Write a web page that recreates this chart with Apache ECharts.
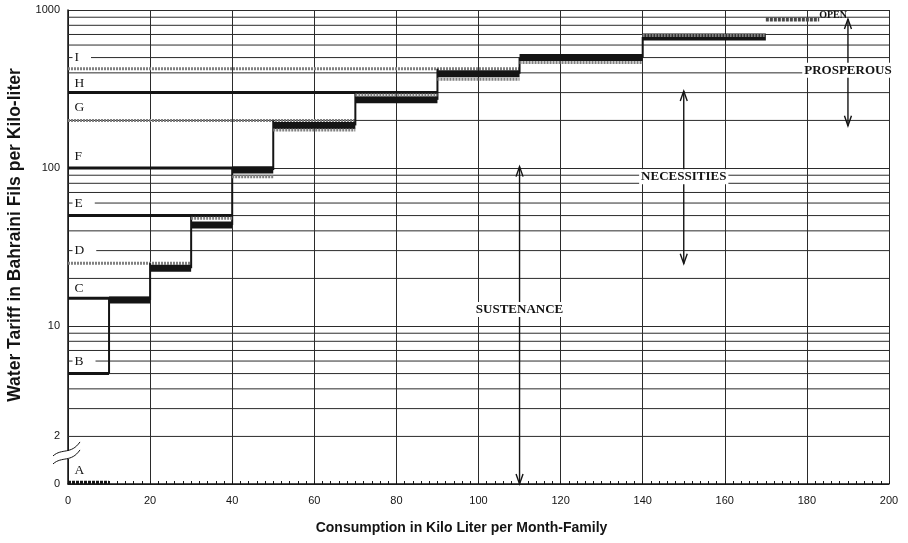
<!DOCTYPE html>
<html>
<head>
<meta charset="utf-8">
<title>Water Tariff Blocks</title>
<script src="https://cdn.jsdelivr.net/npm/echarts@6.0.0/dist/echarts.min.js"></script>
<style>
  html, body { margin: 0; padding: 0; background: #fff; }
  #chart { width: 908px; height: 543px; }
</style>
</head>
<body>
<div id="chart"></div>
<script>
// ---- data -----------------------------------------------------------
// Tariff blocks: each rate (fils per kilo-litre) runs from 0 up to the block's end
const blockNames = ['B', 'C', 'D', 'E', 'F', 'G', 'H', 'I'];
const blockEnds  = [10, 20, 30, 40, 50, 70, 90, 110];
const blockRates = [5, 15, 25, 50, 100, 200, 300, 425];
const shadedBlocks = ['D', 'G', 'I'];

// Free first block A (0 fils) over the first 10 kilo-litres
const freeBlock = { name: 'A', from: 0, to: 10, rate: 0 };

// Stepped charge bands between consecutive block limits
const stepStarts = [10, 20, 30, 40, 50, 70, 90, 110, 140];
const stepEnds   = [20, 30, 40, 50, 70, 90, 110, 140, 170];
const stepRates  = [14.6, 23.2, 43.5, 97, 186, 270, 395, 500, 675];
const stepShades = [null, null, 48, 88, 174, 290, 365, 465, 690];

// Open-ended top band
const openBand = { name: 'OPEN', from: 170, to: 183, rate: 870 };

// Consumption classes marked by double arrows
const rangeNames = ['SUSTENANCE', 'NECESSITIES', 'PROSPEROUS'];
const rangeAt    = [110, 150, 190];
const rangeLow   = [0, 24.8, 185];
const rangeHigh  = [102, 307, 877];
const rangeTagAt = [12.7, 88, 415];

// Block letters, placed on the tariff scale
const letterNames = ['A', 'B', 'C', 'D', 'E', 'F', 'G', 'H', 'I'];
const letterAt    = [1.21, 6, 17.3, 30, 60, 119, 243, 344, 500];

// Axis ticks
const xMax = 200, xStep = 20;
const yMin = 1, yMax = 1000;           // bottom of the log scale is shown as 0
const yMinorLines = [2, 3, 4, 5, 6, 7, 8, 9, 20, 30, 40, 50, 60, 70, 80, 90,
                     200, 300, 400, 500, 600, 700, 800, 900];
const yExtraLabel = 2;                 // labelled line just above the axis break
const yBreakAt = 1.55;                 // where the axis break sits

// ---- drawing ----------------------------------------------------------
const ink = '#141414';
const gridInk = '#2b2b2b';
const shadeInk = '#808080';
const serif = '"Liberation Serif", "Times New Roman", serif';
const sans = '"Liberation Sans", Arial, sans-serif';
const letterX = 1.1;

// a rate of 0 sits on the baseline of the broken axis
const onAxis = v => (v <= 0 ? yMin : v);

function hSegment(width, color, dash, dy) {
  return function (params, api) {
    const y = onAxis(api.value(2));
    const a = api.coord([api.value(0), y]);
    const b = api.coord([api.value(1), y]);
    const off = dy || 0;
    return {
      type: 'line', silent: true,
      shape: { x1: a[0], y1: a[1] + off, x2: b[0], y2: b[1] + off },
      style: { stroke: color, lineWidth: width, lineDash: dash || null, fill: 'none' }
    };
  };
}

function vSegment(width, color) {
  return function (params, api) {
    const x = api.value(0);
    const a = api.coord([x, onAxis(api.value(1))]);
    const b = api.coord([x, onAxis(api.value(2))]);
    return {
      type: 'line', silent: true,
      shape: { x1: a[0], y1: a[1], x2: b[0], y2: b[1] },
      style: { stroke: color, lineWidth: width, fill: 'none' }
    };
  };
}

const solidBlocks = [], dottedBlocks = [];
blockNames.forEach((n, i) => {
  (shadedBlocks.includes(n) ? dottedBlocks : solidBlocks).push([0, blockEnds[i], blockRates[i]]);
});

const darkSteps = stepStarts.map((s, i) => [s, stepEnds[i], stepRates[i]]);
const shadeSteps = stepStarts
  .map((s, i) => [s, stepEnds[i], stepShades[i]])
  .filter(d => d[2] != null);

// risers join each step to the next block / step above it
const risers = stepStarts.map((x, i) => {
  const low = i === 0 ? blockRates[0] : stepRates[i - 1];
  const nextBlock = blockRates[i + 1];
  const high = Math.max(stepRates[i], nextBlock != null ? nextBlock : 0);
  return [x, low, high];
});

const chart = echarts.init(document.getElementById('chart'));

const option = {
  animation: false,
  backgroundColor: '#fff',
  grid: { left: 68, right: 19, top: 10, bottom: 59, outerBoundsMode: 'none', containLabel: false },
  xAxis: {
    type: 'value', min: 0, max: xMax, interval: xStep,
    axisLine: { show: true, onZero: false, lineStyle: { color: ink, width: 1.5 } },
    axisTick: { show: true, inside: true, length: 3, lineStyle: { color: ink } },
    minorTick: { show: true, splitNumber: 10, length: 3, lineStyle: { color: ink } },
    splitLine: { show: true, lineStyle: { color: gridInk, width: 1 } },
    axisLabel: { color: ink, fontFamily: sans, fontSize: 11, margin: 11 },
    name: 'Consumption in Kilo Liter per Month-Family',
    nameLocation: 'middle', nameGap: 37,
    nameTextStyle: { fontFamily: sans, fontWeight: 'bold', fontSize: 14, color: ink,
                     padding: [0, 34, 0, 0] }
  },
  yAxis: {
    type: 'log', logBase: 10, min: yMin, max: yMax,
    axisLine: { show: true, onZero: false, lineStyle: { color: ink, width: 1.5 } },
    axisTick: { show: false },
    splitLine: { show: true, lineStyle: { color: gridInk, width: 1 } },
    axisLabel: {
      color: ink, fontFamily: sans, fontSize: 11, margin: 8,
      formatter: v => (v <= yMin ? '0' : String(Math.round(v)))
    },
    name: 'Water Tariff in Bahraini Fils per Kilo-liter',
    nameLocation: 'middle', nameGap: 44,
    nameTextStyle: { fontFamily: sans, fontWeight: 'bold', fontSize: 17.5, color: ink,
                     padding: [0, 0, 0, 24] }
  },
  series: [
    { // intermediate log grid lines
      type: 'custom', z: 1, silent: true,
      data: yMinorLines.map(v => [0, xMax, v]),
      encode: { x: [0, 1], y: 2 },
      renderItem: hSegment(1, gridInk)
    },
    {
      type: 'custom', z: 3, silent: true,
      data: solidBlocks, encode: { x: [0, 1], y: 2 },
      renderItem: hSegment(3, ink)
    },
    {
      type: 'custom', z: 3, silent: true,
      data: dottedBlocks, encode: { x: [0, 1], y: 2 },
      renderItem: hSegment(3, shadeInk, [2, 1])
    },
    {
      type: 'custom', z: 3, silent: true,
      data: risers, encode: { x: 0, y: [1, 2] },
      renderItem: vSegment(2, ink)
    },
    {
      type: 'custom', z: 4, silent: true,
      data: darkSteps, encode: { x: [0, 1], y: 2 },
      renderItem: hSegment(7, ink)
    },
    {
      type: 'custom', z: 4, silent: true,
      data: shadeSteps, encode: { x: [0, 1], y: 2 },
      renderItem: hSegment(3, shadeInk, [2, 1])
    },
    { // free block A on the zero baseline
      type: 'custom', z: 4, silent: true,
      data: [[freeBlock.from, freeBlock.to, freeBlock.rate]], encode: { x: [0, 1], y: 2 },
      renderItem: hSegment(3.5, ink, [3, 1], -1.5)
    },
    { // open-ended band
      type: 'custom', z: 4, silent: true,
      data: [[openBand.from, openBand.to, openBand.rate]], encode: { x: [0, 1], y: 2 },
      renderItem: function (params, api) {
        const a = api.coord([api.value(0), api.value(2)]);
        const b = api.coord([api.value(1), api.value(2)]);
        return {
          type: 'group', children: [
            { type: 'line', shape: { x1: a[0], y1: a[1], x2: b[0], y2: b[1] },
              style: { stroke: '#4a4a4a', lineWidth: 4, lineDash: [3, 1], fill: 'none' } },
            { type: 'text', x: b[0], y: b[1] + 1,
              style: { text: openBand.name, fontFamily: serif, fontWeight: 'bold', fontSize: 10,
                       fill: ink, align: 'left', verticalAlign: 'bottom' } }
          ]
        };
      }
    },
    { // block letters
      type: 'custom', z: 6, silent: true,
      data: letterNames.map((n, i) => [letterX, letterAt[i]]), encode: { x: 0, y: 1 },
      renderItem: function (params, api) {
        const p = api.coord([api.value(0), api.value(1)]);
        return {
          type: 'text', x: p[0], y: p[1],
          style: { text: letterNames[params.dataIndex], fontFamily: serif, fontSize: 13.5,
                   fill: ink, align: 'left', verticalAlign: 'middle',
                   backgroundColor: '#fff', padding: [0, 12, 0, 2] }
        };
      }
    },
    { // consumption classes
      type: 'custom', z: 6, silent: true,
      data: rangeNames.map((n, i) => [rangeAt[i], rangeLow[i], rangeHigh[i], rangeTagAt[i]]),
      encode: { x: 0, y: [1, 2] },
      renderItem: function (params, api) {
        const x = api.value(0);
        const lo = api.coord([x, onAxis(api.value(1))]);
        const hi = api.coord([x, onAxis(api.value(2))]);
        const mid = api.coord([x, api.value(3)]);
        const w = 3.5, h = 10;
        const st = { stroke: ink, lineWidth: 1.4, fill: 'none' };
        return {
          type: 'group', children: [
            { type: 'line', shape: { x1: lo[0], y1: lo[1], x2: hi[0], y2: hi[1] }, style: st },
            { type: 'polyline', shape: { points: [[hi[0] - w, hi[1] + h], [hi[0], hi[1]], [hi[0] + w, hi[1] + h]] }, style: st },
            { type: 'polyline', shape: { points: [[lo[0] - w, lo[1] - h], [lo[0], lo[1]], [lo[0] + w, lo[1] - h]] }, style: st },
            { type: 'text', x: mid[0], y: mid[1],
              style: { text: rangeNames[params.dataIndex], fontFamily: serif, fontWeight: 'bold',
                       fontSize: 13, fill: ink, align: 'center', verticalAlign: 'middle',
                       backgroundColor: '#fff', padding: [1, 2] } }
          ]
        };
      }
    },
    { // axis break and the label of the line above it
      type: 'custom', z: 6, silent: true,
      data: [[0, yBreakAt]], encode: { x: 0, y: 1 },
      renderItem: function (params, api) {
        const p = api.coord([api.value(0), api.value(1)]);
        const lbl = api.coord([0, yExtraLabel]);
        const ax = p[0], y0 = p[1];
        const curve = dy => ({
          type: 'bezierCurve',
          shape: { x1: ax - 15, y1: y0 + 2 + dy, cpx1: ax - 6, cpy1: y0 - 6 + dy,
                   cpx2: ax + 3, cpy2: y0 + 1 + dy, x2: ax + 12, y2: y0 - 12 + dy },
          style: { stroke: ink, lineWidth: 1, fill: 'none' }
        });
        return {
          type: 'group', children: [
            { type: 'rect', shape: { x: ax - 3, y: y0 - 3, width: 6, height: 8 }, style: { fill: '#fff' } },
            curve(0), curve(8),
            { type: 'text', x: lbl[0] - 8, y: lbl[1],
              style: { text: String(yExtraLabel), fontFamily: sans, fontSize: 11, fill: ink,
                       align: 'right', verticalAlign: 'middle' } }
          ]
        };
      }
    }
  ]
};

chart.setOption(option);
</script>
</body>
</html>
